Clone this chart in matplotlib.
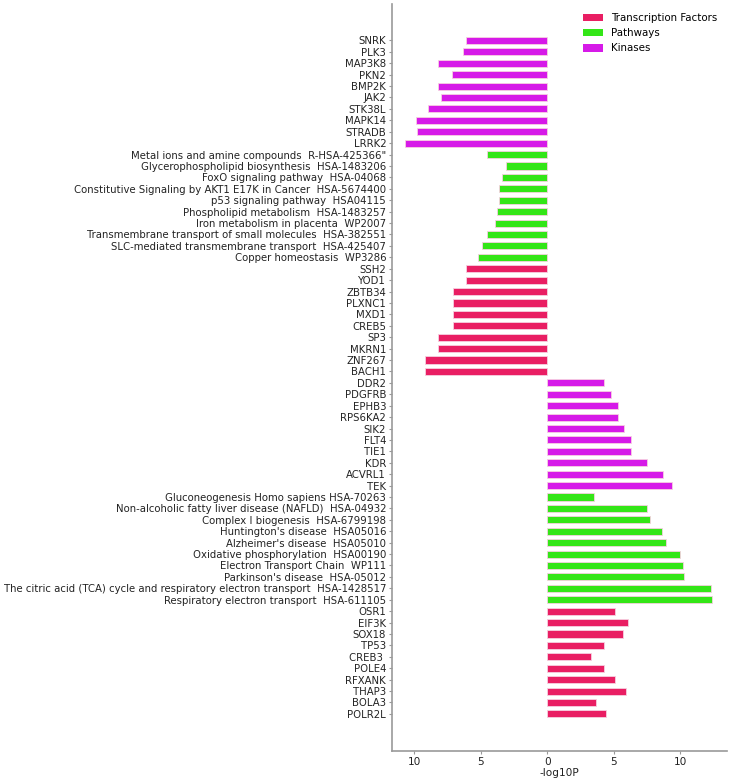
import matplotlib
matplotlib.use("Agg")
import matplotlib.pyplot as plt
from matplotlib.ticker import FuncFormatter, FixedLocator
from matplotlib.patches import Patch

# ---------------- data (top to bottom) ----------------
up_kin_labels = ["SNRK", "PLK3", "MAP3K8", "PKN2", "BMP2K", "JAK2", "STK38L", "MAPK14", "STRADB", "LRRK2"]
up_kin_vals = [6.1, 6.3, 8.2, 7.2, 8.2, 8.0, 9.0, 9.9, 9.8, 10.7]

up_path_labels = [
    "Metal ions and amine compounds  R-HSA-425366\"",
    "Glycerophospholipid biosynthesis  HSA-1483206",
    "FoxO signaling pathway  HSA-04068",
    "Constitutive Signaling by AKT1 E17K in Cancer  HSA-5674400",
    "p53 signaling pathway  HSA04115",
    "Phospholipid metabolism  HSA-1483257",
    "Iron metabolism in placenta  WP2007",
    "Transmembrane transport of small molecules  HSA-382551",
    "SLC-mediated transmembrane transport  HSA-425407",
    "Copper homeostasis  WP3286",
]
up_path_vals = [4.5, 3.1, 3.4, 3.6, 3.6, 3.8, 3.9, 4.5, 4.9, 5.2]

up_tf_labels = ["SSH2", "YOD1", "ZBTB34", "PLXNC1", "MXD1", "CREB5", "SP3", "MKRN1", "ZNF267", "BACH1"]
up_tf_vals = [6.1, 6.1, 7.1, 7.1, 7.1, 7.1, 8.2, 8.2, 9.2, 9.2]

dn_kin_labels = ["DDR2", "PDGFRB", "EPHB3", "RPS6KA2", "SIK2", "FLT4", "TIE1", "KDR", "ACVRL1", "TEK"]
dn_kin_vals = [4.3, 4.8, 5.3, 5.3, 5.8, 6.3, 6.3, 7.5, 8.7, 9.4]

dn_path_labels = [
    "Gluconeogenesis Homo sapiens HSA-70263",
    "Non-alcoholic fatty liver disease (NAFLD)  HSA-04932",
    "Complex I biogenesis  HSA-6799198",
    "Huntington's disease  HSA05016",
    "Alzheimer's disease  HSA05010",
    "Oxidative phosphorylation  HSA00190",
    "Electron Transport Chain  WP111",
    "Parkinson's disease  HSA-05012",
    "The citric acid (TCA) cycle and respiratory electron transport  HSA-1428517",
    "Respiratory electron transport  HSA-611105",
]
dn_path_vals = [3.5, 7.5, 7.7, 8.6, 8.9, 10.0, 10.2, 10.3, 12.3, 12.4]

dn_tf_labels = ["OSR1", "EIF3K", "SOX18", "TP53", "CREB3 ", "POLE4", "RFXANK", "THAP3", "BOLA3", "POLR2L"]
dn_tf_vals = [5.1, 6.1, 5.7, 4.3, 3.3, 4.3, 5.1, 5.9, 3.7, 4.4]

legend_labels = ["Transcription Factors", "Pathways", "Kinases"]
colors = {"tf": "#E91E63", "path": "#33E617", "kin": "#D61AE8"}

# ---------------- assemble ----------------
groups = [
    (up_kin_labels, up_kin_vals, -1, "kin"),
    (up_path_labels, up_path_vals, -1, "path"),
    (up_tf_labels, up_tf_vals, -1, "tf"),
    (dn_kin_labels, dn_kin_vals, 1, "kin"),
    (dn_path_labels, dn_path_vals, 1, "path"),
    (dn_tf_labels, dn_tf_vals, 1, "tf"),
]
labels, values, cols = [], [], []
for labs, vals, sign, key in groups:
    for l, v in zip(labs, vals):
        labels.append(l)
        values.append(sign * v)
        cols.append(colors[key])

n = len(labels)
ypos = [n - 1 - i for i in range(n)]

plt.rcParams["font.family"] = ["DejaVu Sans"]

fig = plt.figure(figsize=(7.29, 7.8), dpi=100)
ax = fig.add_axes([0.5373, 0.0372, 0.4595, 0.9578])

ax.barh(ypos, values, height=0.62, color=cols, edgecolor="#f6d0e0", linewidth=0.6)

ax.set_ylim(-3.25, n - 1 + 3.2)
ax.set_xlim(-11.7, 13.5)
ax.set_yticks(ypos)
ax.set_yticklabels(labels, fontsize=7.3, color="#222222")

ax.xaxis.set_major_locator(FixedLocator([-10, -5, 0, 5, 10]))
ax.xaxis.set_major_formatter(FuncFormatter(lambda v, p: f"{abs(int(round(v)))}"))
ax.tick_params(axis="x", labelsize=7.6, colors="#222222", length=2.5, color="#999999", pad=1.5)
ax.tick_params(axis="y", length=2.5, color="#999999", pad=1.5)
ax.set_xlabel("-log10P", fontsize=7.6, labelpad=1, color="#222222")

for s in ["top", "right"]:
    ax.spines[s].set_visible(False)
for s in ["left", "bottom"]:
    ax.spines[s].set_color("#999999")
    ax.spines[s].set_linewidth(1.2)

handles = [Patch(facecolor=colors[k], edgecolor="none") for k in ["tf", "path", "kin"]]
ax.legend(handles, legend_labels, loc="upper right", frameon=False, fontsize=7.4,
          handlelength=1.95, handleheight=0.75, labelspacing=0.5, handletextpad=0.8,
          bbox_to_anchor=(1.0, 1.0), borderaxespad=0.5)

fig.savefig("out.png", dpi=100)
